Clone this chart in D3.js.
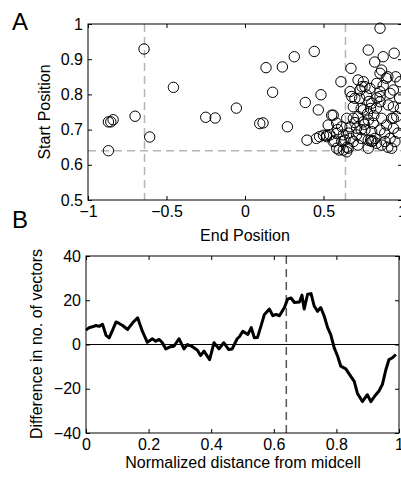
<!DOCTYPE html>
<html>
<head>
<meta charset="utf-8">
<script src="https://cdn.jsdelivr.net/npm/d3@7"></script>
<style>
  body { margin: 0; background: #fff; }
  text { font-family: "Liberation Sans", Arial, sans-serif; }
</style>
</head>
<body>
<script>
// Panel A data: end vs start position of each vector
var endPos = [
  -0.87, -0.87, -0.855, -0.84, -0.70, -0.643, -0.607, -0.456, -0.25, -0.19,
  -0.055, 0.094, 0.115, 0.134, 0.176, 0.238, 0.27, 0.314, 0.384, 0.395,
  0.441, 0.467, 0.484, 0.455, 0.475, 0.50, 0.52, 0.611, 0.675, 0.785,
  0.86, 0.826, 0.88, 0.95, 0.987,
  0.87, 0.86, 0.90, 0.91, 0.754, 0.764, 0.838, 0.72, 0.745, 0.68,
  0.73, 0.775, 0.86, 0.924, 0.945, 0.945, 0.669, 0.733, 0.796, 0.86,
  0.945, 0.913, 0.86, 0.807, 0.838, 0.754, 0.69, 0.70, 0.72, 0.69,
  0.648, 0.552, 0.562, 0.754, 0.785, 0.817, 0.87, 0.934, 0.966, 0.902,
  0.945, 0.86, 0.807, 0.764, 0.711, 0.669, 0.616, 0.584, 0.53, 0.541,
  0.584, 0.626, 0.669, 0.711, 0.743, 0.785, 0.828, 0.807, 0.838, 0.892,
  0.924, 0.955, 0.934, 0.87, 0.785, 0.72, 0.657, 0.648, 0.626, 0.584,
  0.562, 0.616, 0.637, 0.69, 0.52, 0.59, 0.57, 0.80, 0.815, 0.975,
  0.99, 0.985, 0.96, 0.74, 0.78, 0.80, 0.82, 0.89, 0.91, 0.65,
  0.60, 0.74, 0.76, 0.79, 0.84, 0.88, 0.70, 0.66
];
var startPos = [
  0.640, 0.722, 0.722, 0.728, 0.738, 0.929, 0.679, 0.820, 0.735, 0.733,
  0.761, 0.717, 0.719, 0.876, 0.806, 0.878, 0.708, 0.907, 0.777, 0.670,
  0.922, 0.756, 0.799, 0.675, 0.680, 0.684, 0.684, 0.836, 0.874, 0.926,
  0.988, 0.892, 0.907, 0.917, 0.836,
  0.869, 0.860, 0.846, 0.850, 0.836, 0.822, 0.831, 0.841, 0.822, 0.794,
  0.789, 0.798, 0.794, 0.803, 0.765, 0.732, 0.808, 0.8125, 0.817, 0.808,
  0.8125, 0.770, 0.779, 0.775, 0.761, 0.756, 0.765, 0.789, 0.737, 0.732,
  0.732, 0.741, 0.741, 0.722, 0.727, 0.718, 0.732, 0.732, 0.737, 0.713,
  0.704, 0.699, 0.694, 0.699, 0.704, 0.708, 0.708, 0.718, 0.713, 0.685,
  0.689, 0.685, 0.675, 0.685, 0.675, 0.670, 0.675, 0.666, 0.661, 0.666,
  0.675, 0.666, 0.647, 0.656, 0.647, 0.656, 0.647, 0.637, 0.642, 0.647,
  0.666, 0.666, 0.670, 0.666, 0.680, 0.700, 0.668, 0.670, 0.668, 0.690,
  0.760, 0.790, 0.850, 0.760, 0.745, 0.760, 0.740, 0.690, 0.650, 0.650,
  0.642, 0.700, 0.715, 0.780, 0.790, 0.825, 0.720, 0.690
];

// Panel B data: difference in number of vectors along the cell
var distance = [
  0.000, 0.010, 0.020, 0.032, 0.042, 0.053, 0.064, 0.074, 0.085, 0.096,
  0.107, 0.117, 0.133, 0.149, 0.165, 0.180, 0.196, 0.212, 0.223, 0.234,
  0.244, 0.255, 0.270, 0.281, 0.297, 0.313, 0.324, 0.340, 0.356, 0.366,
  0.377, 0.395, 0.409, 0.425, 0.440, 0.456, 0.467, 0.483, 0.490, 0.501,
  0.517, 0.528, 0.538, 0.548, 0.559, 0.570, 0.586, 0.597, 0.607, 0.618,
  0.634, 0.644, 0.655, 0.666, 0.682, 0.690, 0.697, 0.708, 0.719, 0.729,
  0.740, 0.750, 0.761, 0.772, 0.782, 0.793, 0.804, 0.814, 0.830, 0.846,
  0.857, 0.867, 0.883, 0.899, 0.910, 0.926, 0.936, 0.947, 0.958, 0.968,
  0.979, 0.990
];
var diffVectors = [
  6.5, 7.6, 8.0, 8.6, 8.2, 9.1, 4.1, 3.0, 6.5, 10.2,
  9.4, 8.6, 6.8, 9.8, 12.1, 6.0, 1.0, 2.6, 1.5, 2.3,
  0.8, -2.0, -1.0, -0.8, 2.6, -2.0, 0.0, -1.0, -2.6, -5.0,
  -3.0, -6.8, 0.8, -2.0, 0.8, -2.3, -2.0, 2.6, 3.5, 6.0,
  4.5, 7.6, 3.0, 3.2, 8.3, 13.6, 16.0, 13.0, 13.6, 13.0,
  16.7, 20.5, 21.0, 19.0, 19.2, 22.3, 16.0, 22.7, 23.0, 17.4,
  15.0, 16.7, 12.9, 7.6, 4.5, -1.5, -5.3, -9.8, -11.0, -14.4,
  -16.7, -22.0, -25.8, -22.7, -25.8, -22.7, -21.0, -18.0, -11.4, -6.8,
  -6.0, -4.5
];

var xTicksA = [-1, -0.5, 0, 0.5, 1],
    yTicksA = [0.5, 0.6, 0.7, 0.8, 0.9, 1],
    xTicksB = [0, 0.2, 0.4, 0.6, 0.8, 1],
    yTicksB = [-40, -20, 0, 20, 40];
var cutoff = 0.64;

var width = 401,
    height = 478,
    fontSize = 16;

var svg = d3.select("body").append("svg")
    .attr("width", width)
    .attr("height", height);

var minusFmt = function(d) { return String(d).replace("-", "\u2212"); };

// draws a MATLAB-ish box with inward ticks on all four sides
function drawFrame(g, x, y, xTicks, yTicks) {
    var x0 = x.range()[0], x1 = x.range()[1],
        y0 = y.range()[0], y1 = y.range()[1];

    var bottom = g.append("g").attr("transform", "translate(0," + y0 + ")")
        .call(d3.axisBottom(x).tickValues(xTicks).tickFormat(minusFmt)
            .tickSizeInner(-4).tickSizeOuter(0).tickPadding(6));
    var left = g.append("g").attr("transform", "translate(" + x0 + ",0)")
        .call(d3.axisLeft(y).tickValues(yTicks).tickFormat(minusFmt)
            .tickSizeInner(-4).tickSizeOuter(0).tickPadding(5));
    g.append("g").attr("transform", "translate(0," + y1 + ")")
        .call(d3.axisTop(x).tickValues(xTicks).tickFormat("")
            .tickSizeInner(-4).tickSizeOuter(0));
    g.append("g").attr("transform", "translate(" + x1 + ",0)")
        .call(d3.axisRight(y).tickValues(yTicks).tickFormat("")
            .tickSizeInner(-4).tickSizeOuter(0));

    g.selectAll(".domain").remove();
    g.selectAll(".tick line").attr("stroke", "#000");
    [bottom, left].forEach(function(a) {
        a.attr("font-size", fontSize)
         .attr("font-family", "'Liberation Sans', Arial, sans-serif");
        a.selectAll("text").attr("fill", "#000");
    });

    g.append("rect")
        .attr("x", x0).attr("y", y1)
        .attr("width", x1 - x0).attr("height", y0 - y1)
        .attr("fill", "none")
        .attr("stroke", "#000")
        .attr("stroke-width", 1);
}

// ---- Panel A: scatter ----
var xA = d3.scaleLinear().domain([-1, 1]).range([88, 402]),
    yA = d3.scaleLinear().domain([0.5, 1]).range([200, 24]);

var gA = svg.append("g");

// grey dashed cutoff lines
gA.append("line")
    .attr("x1", xA(-cutoff)).attr("x2", xA(-cutoff))
    .attr("y1", yA(1)).attr("y2", yA(0.5));
gA.append("line")
    .attr("x1", xA(cutoff)).attr("x2", xA(cutoff))
    .attr("y1", yA(1)).attr("y2", yA(0.5));
gA.append("line")
    .attr("x1", xA(-1)).attr("x2", xA(1))
    .attr("y1", yA(cutoff)).attr("y2", yA(cutoff));
gA.selectAll("line")
    .attr("stroke", "#b4b4b4")
    .attr("stroke-width", 1.5)
    .attr("stroke-dasharray", "8,5");

gA.append("g").selectAll("circle")
    .data(endPos)
  .enter().append("circle")
    .attr("cx", function(d) { return xA(d); })
    .attr("cy", function(d, i) { return yA(startPos[i]); })
    .attr("r", 5.2)
    .attr("fill", "none")
    .attr("stroke", "#000")
    .attr("stroke-width", 1);

drawFrame(gA, xA, yA, xTicksA, yTicksA);

gA.append("text")
    .attr("x", 245).attr("y", 241)
    .attr("text-anchor", "middle")
    .attr("font-size", fontSize)
    .text("End Position");
gA.append("text")
    .attr("transform", "translate(50,112) rotate(-90)")
    .attr("text-anchor", "middle")
    .attr("font-size", fontSize)
    .text("Start Position");

// ---- Panel B: line ----
var xB = d3.scaleLinear().domain([0, 1]).range([86, 399]),
    yB = d3.scaleLinear().domain([-40, 40]).range([433, 256]);

var gB = svg.append("g");

gB.append("line")
    .attr("x1", xB(0)).attr("x2", xB(1))
    .attr("y1", yB(0)).attr("y2", yB(0))
    .attr("stroke", "#000")
    .attr("stroke-width", 1);

gB.append("line")
    .attr("x1", xB(cutoff)).attr("x2", xB(cutoff))
    .attr("y1", yB(40)).attr("y2", yB(-40))
    .attr("stroke", "#555")
    .attr("stroke-width", 1.5)
    .attr("stroke-dasharray", "8,5");

var line = d3.line()
    .x(function(d) { return xB(d); })
    .y(function(d, i) { return yB(diffVectors[i]); });

gB.append("path")
    .attr("d", line(distance))
    .attr("fill", "none")
    .attr("stroke", "#000")
    .attr("stroke-width", 3)
    .attr("stroke-linejoin", "round");

drawFrame(gB, xB, yB, xTicksB, yTicksB);

gB.append("text")
    .attr("x", 243).attr("y", 468)
    .attr("text-anchor", "middle")
    .attr("font-size", fontSize)
    .text("Normalized distance from midcell");
gB.append("text")
    .attr("transform", "translate(42,344) rotate(-90)")
    .attr("text-anchor", "middle")
    .attr("font-size", fontSize)
    .text("Difference in no. of vectors");

// panel letters
svg.append("text").attr("x", 12).attr("y", 30)
    .attr("font-size", 24).text("A");
svg.append("text").attr("x", 12).attr("y", 228)
    .attr("font-size", 24).text("B");
</script>
</body>
</html>
